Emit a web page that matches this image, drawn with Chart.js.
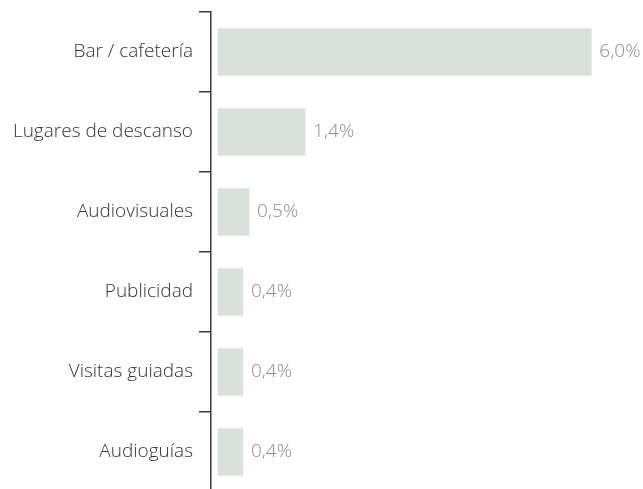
<!DOCTYPE html>
<html>
<head>
<meta charset="utf-8">
<script src="https://cdn.jsdelivr.net/npm/chart.js@4"></script>
<style>
  html, body { margin: 0; padding: 0; background: #fff; overflow: hidden; }
</style>
</head>
<body>
<canvas id="myChart" width="643" height="500"></canvas>
<script>
// Servicios utilizados (% de visitantes)
const categorias = ['Bar / cafetería', 'Lugares de descanso', 'Audiovisuales', 'Publicidad', 'Visitas guiadas', 'Audioguías'];
const valores = [6.0, 1.4, 0.5, 0.4, 0.4, 0.4];

const fuente = '"Open Sans"';

// Etiquetas de valor al final de cada barra
const etiquetasValor = {
    id: 'etiquetasValor',
    afterDatasetsDraw(chart) {
        const ctx = chart.ctx;
        const meta = chart.getDatasetMeta(0);
        ctx.save();
        ctx.font = '300 19px ' + fuente;
        ctx.fillStyle = '#8c8c8c';
        ctx.textAlign = 'left';
        ctx.textBaseline = 'middle';
        meta.data.forEach((bar, i) => {
            const txt = valores[i].toFixed(1).replace('.', ',') + '%';
            ctx.fillText(txt, bar.x + 8, bar.y);
        });
        ctx.restore();
    }
};

const ctx = document.getElementById('myChart').getContext('2d');
const myChart = new Chart(ctx, {
    type: 'bar',
    data: {
        labels: categorias,
        datasets: [{
            data: valores,
            backgroundColor: '#d9e0d9',
            borderWidth: 0,
            barThickness: 47
        }]
    },
    options: {
        indexAxis: 'y',
        responsive: false,
        animation: false,
        layout: { padding: { top: 12, bottom: 8, left: 0, right: 0 } },
        scales: {
            x: {
                display: false,
                min: -0.1125,
                max: 6.83
            },
            y: {
                afterFit(scale) {
                    scale.width = 211;
                    scale.paddingTop = 0;
                    scale.paddingBottom = 0;
                },
                grid: {
                    drawOnChartArea: false,
                    tickLength: 12,
                    color: '#3a3a3a',
                    lineWidth: 1.5
                },
                border: { color: '#3a3a3a', width: 1.5 },
                ticks: {
                    padding: 6,
                    color: '#333',
                    font: { family: fuente, size: 19, weight: 300 }
                }
            }
        },
        plugins: {
            legend: { display: false },
            tooltip: { enabled: false }
        }
    },
    plugins: [etiquetasValor]
});
</script>
</body>
</html>
